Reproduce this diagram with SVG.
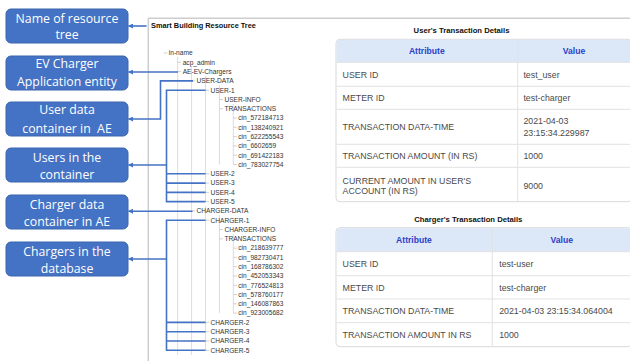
<svg xmlns="http://www.w3.org/2000/svg" width="630" height="361" viewBox="0 0 630 361">
  <defs>
    <marker id="arrow" viewBox="0 0 10 10" refX="9" refY="5" markerWidth="5" markerHeight="5" markerUnits="userSpaceOnUse" orient="auto">
      <path d="M0,0 L10,5 L0,10 z" fill="#4472C4"/>
    </marker>
    <clipPath id="page"><rect x="0" y="0" width="630" height="361"/></clipPath>
  </defs>
  <style>
    .box { fill: #4472C4; stroke: #3B64AE; stroke-width: 1; }
    .boxtext { font-family: "Open Sans", "Noto Sans", sans-serif; font-size: 12.3px; fill: #ffffff; text-anchor: middle; }
    .link { fill: none; stroke: #4472C4; stroke-width: 1.6; }
    .guide { fill: none; stroke: #dcdcdc; stroke-width: 1; }
    .tick { fill: none; stroke: #c4c4c4; stroke-width: 0.8; }
    .tree { font-family: "Liberation Sans", Arial, sans-serif; font-size: 6.6px; fill: #333333; }
    .title { font-family: "Liberation Sans", Arial, sans-serif; font-weight: bold; fill: #111; }
    .cell { font-family: "Liberation Sans", Arial, sans-serif; font-size: 8.8px; fill: #4a4a4a; }
    .head { font-family: "Liberation Sans", Arial, sans-serif; font-size: 8.6px; font-weight: bold; fill: #2B3EC8; text-anchor: middle; }
    .tframe { fill: #ffffff; stroke: #d9d9d9; stroke-width: 1; }
    .thead { fill: #DCE8F8; }
    .rule { stroke: #e2e2e2; stroke-width: 1; }
  </style>

  <rect x="0" y="0" width="630" height="361" fill="#ffffff"/>

  <!-- frame of the tree/detail view -->
  <g id="frame">
    <path d="M148.3,18.3 H632 M148.3,18.3 V362" fill="none" stroke="#cdcdcd" stroke-width="1.5"/>
    <text class="title" x="151" y="27.7" font-size="7.35px">Smart Building Resource Tree</text>
  </g>

  <!-- label boxes -->
  <g id="box-name">
    <rect class="box" x="6" y="9" width="122" height="34" rx="5"/>
    <text class="boxtext" x="67" y="22.6">Name of resource</text>
    <text class="boxtext" x="67" y="39.3">tree</text>
  </g>
  <g id="box-ae">
    <rect class="box" x="6" y="56" width="122" height="34" rx="5"/>
    <text class="boxtext" x="67" y="68.3">EV Charger</text>
    <text class="boxtext" x="67" y="86">Application entity</text>
  </g>
  <g id="box-userdata">
    <rect class="box" x="6" y="102" width="122" height="34" rx="5"/>
    <text class="boxtext" x="67" y="114.3">User data</text>
    <text class="boxtext" x="67" y="132.6" style="white-space:pre">container in  AE</text>
  </g>
  <g id="box-users">
    <rect class="box" x="6" y="148" width="122" height="34" rx="5"/>
    <text class="boxtext" x="67" y="162">Users in the</text>
    <text class="boxtext" x="67" y="179.3">container</text>
  </g>
  <g id="box-chargerdata">
    <rect class="box" x="6" y="195" width="122" height="34" rx="5"/>
    <text class="boxtext" x="67" y="209.3">Charger data</text>
    <text class="boxtext" x="67" y="226">container in AE</text>
  </g>
  <g id="box-chargers">
    <rect class="box" x="6" y="242" width="122" height="34" rx="5"/>
    <text class="boxtext" x="67" y="256">Chargers in the</text>
    <text class="boxtext" x="67" y="272.6">database</text>
  </g>

  <!-- resource tree: guides, ticks and node labels -->
  <g id="tree-guides">
    <path class="guide" d="M177.7,57 V355 M191.6,66 V355 M205.5,76 V201.6 M205.5,206 V350.3 M219.4,85 V164.5 M219.4,215 V313.1 M233.3,104 V164.5 M233.3,234 V313.1"/>
    <path class="tick" d="M163.8,53 H167.3 M177.7,62.3 H181.2 M177.7,71.6 H181.2 M191.6,80.9 H195.1 M205.5,90.2 H209 M219.4,99.5 H222.9 M219.4,108.7 H222.9 M233.3,118 H236.8 M233.3,127.3 H236.8 M233.3,136.6 H236.8 M233.3,145.9 H236.8 M233.3,155.2 H236.8 M233.3,164.5 H236.8 M205.5,173.8 H209 M205.5,183.1 H209 M205.5,192.4 H209 M205.5,201.6 H209 M191.6,210.9 H195.1 M205.5,220.2 H209 M219.4,229.5 H222.9 M219.4,238.8 H222.9 M233.3,248.1 H236.8 M233.3,257.4 H236.8 M233.3,266.7 H236.8 M233.3,276 H236.8 M233.3,285.3 H236.8 M233.3,294.5 H236.8 M233.3,303.8 H236.8 M233.3,313.1 H236.8 M205.5,322.4 H209 M205.5,331.7 H209 M205.5,341 H209 M205.5,350.3 H209"/>
  </g>
  <g id="tree-nodes" class="tree">
    <g id="n-in-name"><text x="168.8" y="55.3">in-name</text></g>
    <g id="n-acp-admin"><text x="182.7" y="64.6">acp_admin</text></g>
    <g id="n-ae"><text x="182.7" y="73.9">AE-EV-Chargers</text></g>
    <g id="n-user-data"><text x="196.6" y="83.2">USER-DATA</text></g>
    <g id="n-user-1"><text x="210.5" y="92.5">USER-1</text></g>
    <g id="n-user-info"><text x="224.4" y="101.8">USER-INFO</text></g>
    <g id="n-user-tx"><text x="224.4" y="111">TRANSACTIONS</text></g>
    <g id="n-user-cins">
      <text x="238.3" y="120.3">cin_572184713</text>
      <text x="238.3" y="129.6">cin_138240921</text>
      <text x="238.3" y="138.9">cin_622255543</text>
      <text x="238.3" y="148.2">cin_6602659</text>
      <text x="238.3" y="157.5">cin_691422183</text>
      <text x="238.3" y="166.8">cin_783027754</text>
    </g>
    <g id="n-user-2"><text x="210.5" y="176.1">USER-2</text></g>
    <g id="n-user-3"><text x="210.5" y="185.4">USER-3</text></g>
    <g id="n-user-4"><text x="210.5" y="194.7">USER-4</text></g>
    <g id="n-user-5"><text x="210.5" y="203.9">USER-5</text></g>
    <g id="n-charger-data"><text x="196.6" y="213.2">CHARGER-DATA</text></g>
    <g id="n-charger-1"><text x="210.5" y="222.5">CHARGER-1</text></g>
    <g id="n-charger-info"><text x="224.4" y="231.8">CHARGER-INFO</text></g>
    <g id="n-charger-tx"><text x="224.4" y="241.1">TRANSACTIONS</text></g>
    <g id="n-charger-cins">
      <text x="238.3" y="250.4">cin_218639777</text>
      <text x="238.3" y="259.7">cin_982730471</text>
      <text x="238.3" y="269">cin_168786302</text>
      <text x="238.3" y="278.3">cin_452053343</text>
      <text x="238.3" y="287.6">cin_776524813</text>
      <text x="238.3" y="296.8">cin_578760177</text>
      <text x="238.3" y="306.1">cin_146087863</text>
      <text x="238.3" y="315.4">cin_923005682</text>
    </g>
    <g id="n-charger-2"><text x="210.5" y="324.7">CHARGER-2</text></g>
    <g id="n-charger-3"><text x="210.5" y="334">CHARGER-3</text></g>
    <g id="n-charger-4"><text x="210.5" y="343.3">CHARGER-4</text></g>
    <g id="n-charger-5"><text x="210.5" y="352.6">CHARGER-5</text></g>
  </g>

  <!-- connectors from tree entries to label boxes -->
  <g id="connectors">
    <path class="link" d="M146.5,26 H128.5" marker-end="url(#arrow)"/>
    <path class="link" d="M178,72 H128.5" marker-end="url(#arrow)"/>
    <path class="link" d="M193,80.9 H160.5 V119 H128.5" marker-end="url(#arrow)"/>
    <path class="link" d="M205.5,90.2 H166.5 V201.6 H205.5 M166.5,173.8 H205.5 M166.5,183.1 H205.5 M166.5,192.4 H205.5"/>
    <path class="link" d="M166.5,165 H128.5" marker-end="url(#arrow)"/>
    <path class="link" d="M192.5,211.2 H128.5" marker-end="url(#arrow)"/>
    <path class="link" d="M205.5,220.2 H166.5 V350.3 H205.5 M166.5,322.4 H205.5 M166.5,331.7 H205.5 M166.5,341 H205.5"/>
    <path class="link" d="M166.5,259 H128.5" marker-end="url(#arrow)"/>
  </g>

  <!-- user transaction table -->
  <g id="user-table" clip-path="url(#page)">
    <text class="title" x="461.5" y="32.8" font-size="7.7px" text-anchor="middle">User's Transaction Details</text>
    <rect class="tframe" x="336" y="39.3" width="296" height="162.4" rx="4"/>
    <path class="thead" d="M340,39.8 H632 V62.3 H336.5 V43.8 Q336.5,39.8 340,39.8 z"/>
    <path class="rule" d="M336.5,62.3 H632 M336.5,86.3 H632 M336.5,109.3 H632 M336.5,144.3 H632 M336.5,167.3 H632 M517.7,39.8 V201.2"/>
    <text class="head" x="426.8" y="54">Attribute</text>
    <text class="head" x="574" y="54">Value</text>
    <text class="cell" x="342.6" y="77.5">USER ID</text>
    <text class="cell" x="523.4" y="77.5">test_user</text>
    <text class="cell" x="342.6" y="101">METER ID</text>
    <text class="cell" x="523.4" y="101">test-charger</text>
    <text class="cell" x="342.6" y="130">TRANSACTION DATA-TIME</text>
    <text class="cell" x="523.4" y="124.2">2021-04-03</text>
    <text class="cell" x="523.4" y="135.5">23:15:34.229987</text>
    <text class="cell" x="342.6" y="159">TRANSACTION AMOUNT (IN RS)</text>
    <text class="cell" x="523.4" y="159">1000</text>
    <text class="cell" x="342.6" y="183.9">CURRENT AMOUNT IN USER'S</text>
    <text class="cell" x="342.6" y="194.2">ACCOUNT (IN RS)</text>
    <text class="cell" x="523.4" y="188.8">9000</text>
  </g>

  <!-- charger transaction table -->
  <g id="charger-table" clip-path="url(#page)">
    <text class="title" x="468.3" y="221.8" font-size="7.7px" text-anchor="middle">Charger's Transaction Details</text>
    <rect class="tframe" x="336" y="227.7" width="296" height="119" rx="4"/>
    <path class="thead" d="M340,228.2 H632 V251.7 H336.5 V232.2 Q336.5,228.2 340,228.2 z"/>
    <path class="rule" d="M336.5,251.7 H632 M336.5,275.7 H632 M336.5,299 H632 M336.5,322.7 H632 M492.3,228.2 V346.2"/>
    <text class="head" x="414" y="242.8">Attribute</text>
    <text class="head" x="561.7" y="242.8">Value</text>
    <text class="cell" x="342.6" y="266.8">USER ID</text>
    <text class="cell" x="499.2" y="266.8">test-user</text>
    <text class="cell" x="342.6" y="290.5">METER ID</text>
    <text class="cell" x="499.2" y="290.5">test-charger</text>
    <text class="cell" x="342.6" y="314">TRANSACTION DATA-TIME</text>
    <text class="cell" x="499.2" y="314">2021-04-03 23:15:34.064004</text>
    <text class="cell" x="342.6" y="337.8">TRANSACTION AMOUNT IN RS</text>
    <text class="cell" x="499.2" y="337.8">1000</text>
  </g>
</svg>
